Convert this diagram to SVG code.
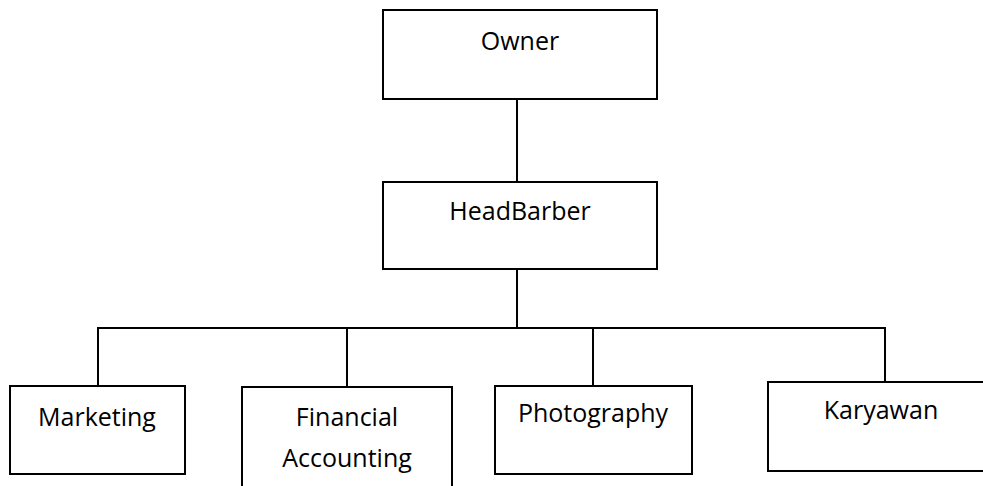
<svg xmlns="http://www.w3.org/2000/svg" width="983" height="486" viewBox="0 0 983 486">
<style>
.box{fill:#fff;stroke:#000;stroke-width:2}
.ln{fill:none;stroke:#000;stroke-width:2}
text{font-family:"Open Sans","Liberation Sans",sans-serif;font-size:25px;fill:#000;text-anchor:middle}
</style>
<rect width="983" height="486" fill="#fff"/>
<g id="connectors">
<line class="ln" x1="517" y1="99" x2="517" y2="182"/>
<line class="ln" x1="517" y1="269" x2="517" y2="328"/>
<polyline class="ln" points="98,386 98,328 885,328 885,382"/>
<line class="ln" x1="347" y1="328" x2="347" y2="387"/>
<line class="ln" x1="593" y1="328" x2="593" y2="386"/>
</g>
<g id="owner">
<rect class="box" x="383" y="10" width="274" height="89"/>
<text x="520" y="50">Owner</text>
</g>
<g id="headbarber">
<rect class="box" x="383" y="182" width="274" height="87"/>
<text x="520" y="220">HeadBarber</text>
</g>
<g id="marketing">
<rect class="box" x="10" y="386" width="175" height="88"/>
<text x="97" y="426">Marketing</text>
</g>
<g id="financial">
<rect class="box" x="242" y="387" width="210" height="110"/>
<text x="347" y="426">Financial</text>
<text x="347" y="467">Accounting</text>
</g>
<g id="photography">
<rect class="box" x="495" y="386" width="197" height="88"/>
<text x="593" y="422">Photography</text>
</g>
<g id="karyawan">
<rect class="box" x="768" y="382" width="230" height="89"/>
<text x="881" y="419">Karyawan</text>
</g>
</svg>
